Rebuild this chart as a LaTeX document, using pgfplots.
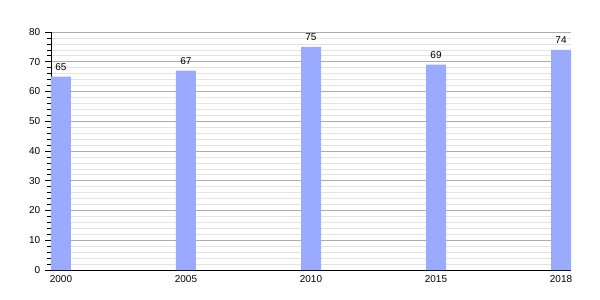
\documentclass[border=0pt]{standalone}
\usepackage{pgfplots}
\pgfplotsset{compat=1.18}
\usepackage{fontspec}
\setmainfont{Liberation Sans}
\definecolor{barc}{RGB}{153,170,255}
\begin{document}
\begin{tikzpicture}
\useasboundingbox (-38.25pt,-22.5pt) rectangle (411.75pt,202.5pt);
\begin{axis}[
  at={(0,0)}, anchor=south west,
  scale only axis, width=390pt, height=178.5pt,
  xmin=-0.08, xmax=4.08, ymin=0, ymax=80,
  axis x line*=bottom, axis y line*=left,
  axis line style={black, line width=0.6pt},
  ytick={0,10,...,80}, minor y tick num=4,
  ymajorgrids, yminorgrids,
  major grid style={color=black!32, line width=0.5pt},
  minor grid style={color=black!11, line width=0.5pt},
  xtick={0,1,2,3,4}, xticklabels={2000,2005,2010,2015,2018},
  x tick style={draw=none},
  xticklabel style={yshift=4pt},
  y tick style={black, line width=0.5pt},
  tick align=outside, major tick length=4.5pt, minor tick length=3pt,
  ybar, bar width=15pt,
  nodes near coords,
  every node near coord/.append style={font=\fontsize{7.5}{9}\selectfont, black, yshift=1pt},
  tick label style={font=\fontsize{7.5}{9}\selectfont},
  /pgf/number format/assume math mode=true,
  clip=false,
]
\addplot[fill=barc, draw=none] coordinates {(0,65) (1,67) (2,75) (3,69) (4,74)};
\end{axis}
\end{tikzpicture}
\end{document}
